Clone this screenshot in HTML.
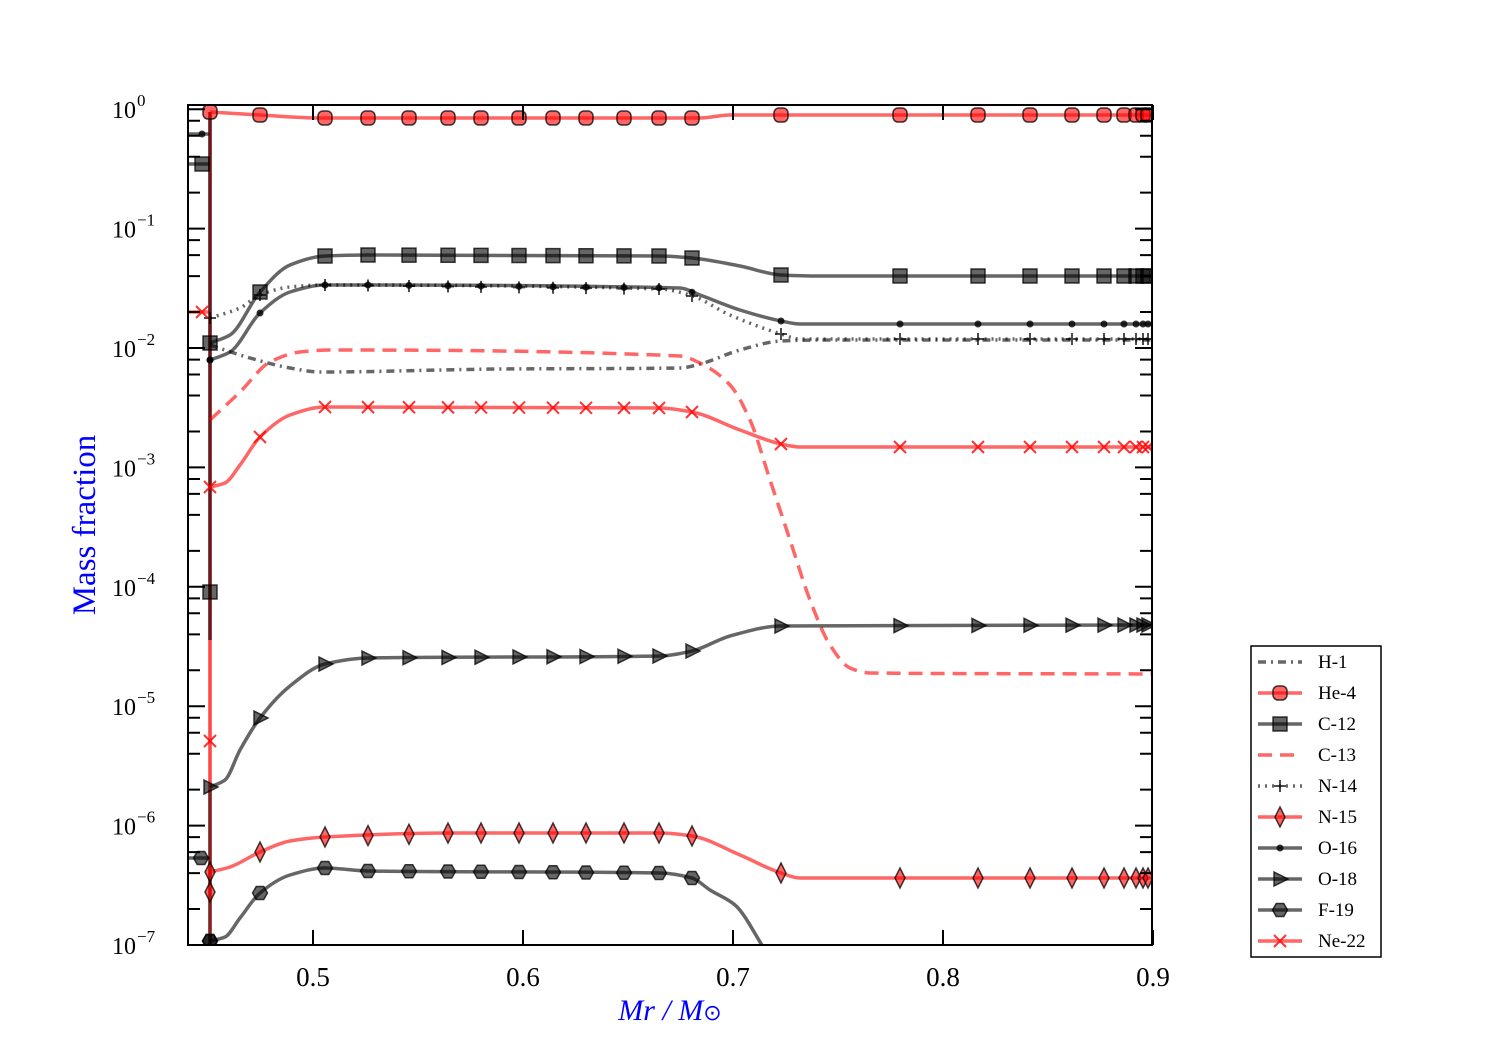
<!DOCTYPE html>
<html><head><meta charset="utf-8"><style>
html,body{margin:0;padding:0;background:#fff;}
svg{display:block;font-family:"Liberation Serif",serif;}
</style></head><body>
<svg id="s" width="1500" height="1050" viewBox="0 0 1500 1050" xmlns="http://www.w3.org/2000/svg">
<defs><clipPath id="c"><rect x="188" y="105" width="964" height="840"/></clipPath></defs>
<g id="plot" clip-path="url(#c)"></g>
<g id="axes"></g>
<text x="95" y="525" transform="rotate(-90 95 525)" text-anchor="middle" font-size="33" fill="#0000ff">Mass fraction</text>
<text x="670" y="1020" text-anchor="middle" font-size="30" fill="#0000ff" font-style="italic">Mr / M<tspan font-style="normal" font-family="DejaVu Sans" font-size="22">⊙</tspan></text>
<g id="leg"></g>
</svg>
<script>
const NS="http://www.w3.org/2000/svg";
function el(t,a,p){const e=document.createElementNS(NS,t);for(const k in a)e.setAttribute(k,a[k]);(p||document.getElementById('plot')).appendChild(e);return e;}
function mono(pts){const n=pts.length,x=pts.map(p=>p[0]),y=pts.map(p=>p[1]);const d=[],m=[];
 for(let i=0;i<n-1;i++)d.push((y[i+1]-y[i])/(x[i+1]-x[i]));
 m[0]=d[0];m[n-1]=d[n-2];
 for(let i=1;i<n-1;i++){if(d[i-1]*d[i]<=0)m[i]=0;else{const w1=2*(x[i+1]-x[i])+(x[i]-x[i-1]),w2=(x[i+1]-x[i])+2*(x[i]-x[i-1]);m[i]=(w1+w2)/(w1/d[i-1]+w2/d[i]);}}
 let s="M"+x[0]+","+y[0];
 for(let i=0;i<n-1;i++){const h=(x[i+1]-x[i])/3;s+=` C${x[i]+h},${y[i]+m[i]*h} ${x[i+1]-h},${y[i+1]-m[i+1]*h} ${x[i+1]},${y[i+1]}`;}
 return s;}
function interp(pts,x){for(let i=0;i<pts.length-1;i++){if(x>=pts[i][0]&&x<=pts[i+1][0]){const t=(x-pts[i][0])/(pts[i+1][0]-pts[i][0]);return pts[i][1]+t*(pts[i+1][1]-pts[i][1]);}}return null;}
const R="rgba(255,0,0,0.6)",G="rgba(0,0,0,0.6)";
const MX=[210,260,325,368,409,448,481,519,553,586,624,659,692,781,900,978,1030,1072,1104,1124,1136,1143,1148];
function marker(type,x,y,col,g){g=g||document.getElementById('plot');
 const fill=col,st="rgba(0,0,0,0.75)";
 if(type=='o')el('rect',{x:x-7,y:y-7,width:14,height:14,rx:5,fill:fill,stroke:st,'stroke-width':1.5},g);
 else if(type=='s')el('rect',{x:x-7,y:y-7,width:14,height:14,fill:fill,stroke:st,'stroke-width':1.5},g);
 else if(type=='.')el('circle',{cx:x,cy:y,r:3.5,fill:'rgba(0,0,0,0.8)'},g);
 else if(type=='+'){el('path',{d:`M${x-6},${y}h12M${x},${y-6}v12`,stroke:'rgba(0,0,0,0.7)','stroke-width':2},g);}
 else if(type=='d')el('path',{d:`M${x},${y-10}L${x+5},${y}L${x},${y+10}L${x-5},${y}Z`,fill:fill,stroke:st,'stroke-width':1.5},g);
 else if(type=='>')el('path',{d:`M${x-6},${y-7}L${x+8},${y}L${x-6},${y+7}Z`,fill:fill,stroke:st,'stroke-width':1.5},g);
 else if(type=='h'){let d="";for(let i=0;i<6;i++){const a=Math.PI/3*i;d+=(i?"L":"M")+(x+7.5*Math.cos(a))+","+(y+7.5*Math.sin(a));}el('path',{d:d+"Z",fill:fill,stroke:st,'stroke-width':1.5},g);}
 else if(type=='x')el('path',{d:`M${x-6},${y-6}L${x+6},${y+6}M${x+6},${y-6}L${x-6},${y+6}`,stroke:'rgba(255,0,0,0.8)','stroke-width':2},g);
}
const S=[
{n:'H-1',c:G,m:null,da:'8,5,2,5',p:[[210,345],[250,358],[290,368],[320,372],[500,369],[680,368],[700,364],[740,350],[781,341],[820,340],[1152,340]]},
{n:'He-4',c:R,m:'o',da:null,p:[[210,112],[260,115],[320,118],[700,118],[730,115],[800,115],[1152,115]]},
{n:'C-12',c:G,m:'s',da:null,p:[[210,343],[230,335],[260,292],[290,265],[325,256],[368,255],[660,256],[692,258],[740,266],[781,275],[820,276],[1152,276]]},
{n:'C-13',c:R,m:null,da:'14,8',p:[[210,420],[240,392],[270,362],[300,352],[330,350],[680,356],[700,363],[730,385],[750,420],[770,480],[790,540],[810,600],[830,645],[850,668],[870,673],[1152,674]]},
{n:'N-14',c:G,m:'+',da:'2,5',p:[[210,318],[240,308],[260,295],[290,287],[325,285],[660,289],[690,295],[730,315],[781,334],[800,339],[1152,339]]},
{n:'N-15',c:R,m:'d',da:null,p:[[210,872],[230,867],[260,852],[290,841],[325,837],[450,833],[660,833],[692,836],[740,855],[781,873],[800,878],[1152,878]]},
{n:'O-16',c:G,m:'.',da:null,p:[[210,360],[230,352],[260,313],[290,292],[325,285],[368,285],[680,288],[700,295],[740,310],[781,321],[800,324],[1152,324]]},
{n:'O-18',c:G,m:'>',da:null,p:[[210,787],[225,780],[240,750],[260,718],[290,686],[325,664],[368,658],[660,656],[692,651],[730,636],[781,626],[1152,625]]},
{n:'F-19',c:G,m:'h',da:null,p:[[210,941],[225,937],[240,918],[260,893],[290,875],[325,868],[368,871],[660,873],[692,878],[710,890],[735,905],[765,950]]},
{n:'Ne-22',c:R,m:'x',da:null,p:[[210,487],[225,483],[240,465],[260,437],[290,415],[325,407],[660,408],[692,412],[740,430],[781,444],[800,447],[1152,447]]}
];
el('path',{d:'M188,134H210',stroke:G,'stroke-width':3.5,fill:'none'});
el('path',{d:'M188,164H210',stroke:G,'stroke-width':3.5,fill:'none'});
el('path',{d:'M188,312H210',stroke:R,'stroke-width':3.5,fill:'none'});
el('path',{d:'M188,858H210',stroke:G,'stroke-width':3.5,fill:'none'});
el('path',{d:'M210,112V945',stroke:R,'stroke-width':3.5});
el('path',{d:'M210,112V945',stroke:R,'stroke-width':3.5,'stroke-opacity':0.5});
el('path',{d:'M210,112V640',stroke:'rgba(0,0,0,0.6)','stroke-width':3.5});
el('path',{d:'M210,790V945',stroke:'rgba(0,0,0,0.5)','stroke-width':3.5});
S.forEach(s=>{el('path',{d:mono(s.p),fill:'none',stroke:s.c,'stroke-width':3.5,'stroke-dasharray':s.da||'none'});
 if(s.m)MX.forEach(x=>{const y=interp(s.p,x);if(y!==null&&y<945)marker(s.m,x,y,s.c);});});
marker('.',202,134,G);marker('s',202,164,G);marker('x',202,312,R);marker('h',201,858,G);
marker('s',210,592,G);marker('x',210,741,R);marker('d',210,892,R);marker('h',210,941,G);marker('.',210,360,G);
const A=document.getElementById('axes');
el('rect',{x:188,y:105,width:964,height:840,fill:'none',stroke:'#000','stroke-width':2},A);
function Y(l){return 945-(l+7)*119.4;}
for(let e=-7;e<=0;e++){const y=Y(e);
 el('path',{d:`M188,${y}h17M1152,${y}h-17`,stroke:'#000','stroke-width':2},A);
 const t=el('text',{x:136,y:y+9,'text-anchor':'end','font-size':24},A);t.textContent='10';
 const t2=el('text',{x:137,y:y-3,'text-anchor':'start','font-size':17},A);t2.textContent=e==0?'0':'−'+(-e);
 if(e<0)for(const k of [2,4,6,8]){const yy=Y(e+Math.log10(k));el('path',{d:`M188,${yy}h12M1152,${yy}h-12`,stroke:'#000','stroke-width':2},A);}
}
for(let i=0;i<5;i++){const x=313+i*210;
 el('path',{d:`M${x},945v-15M${x},105v15`,stroke:'#000','stroke-width':2},A);
 const t=el('text',{x:x,y:986,'text-anchor':'middle','font-size':27},A);t.textContent=(0.5+i*0.1).toFixed(1);}
const L=document.getElementById('leg');
el('rect',{x:1251,y:646,width:130,height:311,fill:'#fff',stroke:'#000','stroke-width':1.5},L);
S.forEach((s,i)=>{const y=662+i*31;
 el('path',{d:`M1258,${y}H1302`,stroke:s.c,'stroke-width':3.5,'stroke-dasharray':s.da||'none'},L);
 if(s.m)marker(s.m,1280,y,s.c,L);
 const t=el('text',{x:1318,y:y+6,'font-size':19},L);t.textContent=s.n;});
</script>
</body></html>
